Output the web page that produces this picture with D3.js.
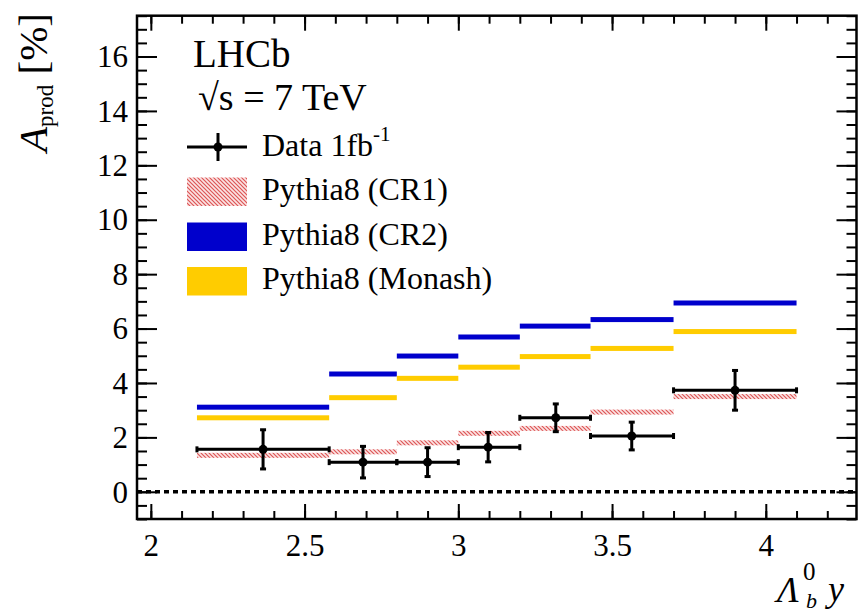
<!DOCTYPE html>
<html>
<head>
<meta charset="utf-8">
<script src="https://cdn.jsdelivr.net/npm/d3@7"></script>
<style>
  html, body { margin: 0; padding: 0; background: #fff; }
  svg { display: block; }
</style>
</head>
<body>
<svg id="chart" width="861" height="614"></svg>
<script>
// ---------------- data ----------------
const binEdges = [2.15, 2.58, 2.8, 3.0, 3.2, 3.43, 3.7, 4.1];
const dataX    = [2.365, 2.69, 2.90, 3.097, 3.317, 3.564, 3.90];
const dataY    = [1.56, 1.09, 1.09, 1.64, 2.72, 2.05, 3.73];
const dataErr  = [0.72, 0.58, 0.53, 0.54, 0.51, 0.51, 0.73];
const cr1      = [1.34, 1.47, 1.80, 2.15, 2.33, 2.93, 3.50];
const cr2      = [3.11, 4.33, 4.99, 5.69, 6.09, 6.33, 6.94];
const monash   = [2.72, 3.46, 4.17, 4.58, 4.97, 5.27, 5.89];
const xMajorTicks = [2, 2.5, 3, 3.5, 4];
const xMinorTicks = d3.range(20, 43).map(d => d / 10);
const yMajorTicks = [0, 2, 4, 6, 8, 10, 12, 14, 16];
const yMinorTicks = d3.range(-2, 36).map(d => d / 2);
const legendLabels = ["Data 1fb", "Pythia8 (CR1)", "Pythia8 (CR2)", "Pythia8 (Monash)"];

// ---------------- layout ----------------
const FONT = "'Liberation Serif', 'Times New Roman', 'DejaVu Serif', serif";
const L = 137, R = 856.5, T = 15.7, B = 519;
const svg = d3.select("#chart");
const x = d3.scaleLinear().domain([1.955, 4.295]).range([L, R]);
const y = d3.scaleLinear().domain([-1, 17.5]).range([B, T]);

const defs = svg.append("defs");
const pat = defs.append("pattern").attr("id", "hatch")
  .attr("patternUnits", "userSpaceOnUse").attr("width", 4).attr("height", 4);
pat.append("rect").attr("width", 4).attr("height", 4).attr("fill", "#fbe4e4");
pat.append("path").attr("d", "M-1,-1 L5,5 M3,-1 L5,1 M-1,3 L1,5")
  .attr("stroke", "#dd5555").attr("stroke-width", 1.2);

// ---------------- axes ----------------
function styleAxis(g) {
  g.select(".domain").remove();
  g.selectAll(".tick line").attr("stroke", "#000").attr("stroke-width", 2);
}
const fs = 31;
// left
svg.append("g").attr("transform", `translate(${L},0)`)
  .call(d3.axisLeft(y).tickValues(yMinorTicks).tickSize(-10).tickFormat("")).call(styleAxis);
const gl = svg.append("g").attr("transform", `translate(${L},0)`)
  .call(d3.axisLeft(y).tickValues(yMajorTicks).tickSize(-20).tickPadding(9).tickFormat(d3.format("d")))
  .call(styleAxis);
gl.selectAll(".tick text").attr("font-size", fs).attr("dy", "0.33em");
// right
svg.append("g").attr("transform", `translate(${R},0)`)
  .call(d3.axisRight(y).tickValues(yMinorTicks).tickSize(-10).tickFormat("")).call(styleAxis);
svg.append("g").attr("transform", `translate(${R},0)`)
  .call(d3.axisRight(y).tickValues(yMajorTicks).tickSize(-20).tickFormat("")).call(styleAxis);
// bottom
svg.append("g").attr("transform", `translate(0,${B})`)
  .call(d3.axisBottom(x).tickValues(xMinorTicks).tickSize(-8).tickFormat("")).call(styleAxis);
const gb = svg.append("g").attr("transform", `translate(0,${B})`)
  .call(d3.axisBottom(x).tickValues(xMajorTicks).tickSize(-15).tickPadding(15).tickFormat(d => String(d)))
  .call(styleAxis);
gb.selectAll(".tick text").attr("font-size", fs).attr("dy", "0.71em");
// top
svg.append("g").attr("transform", `translate(0,${T})`)
  .call(d3.axisTop(x).tickValues(xMinorTicks).tickSize(-8).tickFormat("")).call(styleAxis);
svg.append("g").attr("transform", `translate(0,${T})`)
  .call(d3.axisTop(x).tickValues(xMajorTicks).tickSize(-15).tickFormat("")).call(styleAxis);

// ---------------- model bands ----------------
const bins = d3.range(binEdges.length - 1).map(i => ({ x0: binEdges[i], x1: binEdges[i + 1], i }));
const bandH = 5;
function band(values, fill) {
  svg.append("g").selectAll("rect").data(bins).join("rect")
    .attr("x", d => x(d.x0)).attr("width", d => x(d.x1) - x(d.x0))
    .attr("y", d => y(values[d.i]) - bandH / 2).attr("height", bandH)
    .attr("fill", fill);
}
band(cr1, "url(#hatch)");
band(cr2, "#0000cc");
band(monash, "#ffcc00");

// zero line
svg.append("line").attr("x1", L).attr("x2", R).attr("y1", y(0)).attr("y2", y(0))
  .attr("stroke", "#000").attr("stroke-width", 3.5).attr("stroke-dasharray", "5,4");

// ---------------- data points ----------------
const pts = dataX.map((v, i) => ({ x: v, y: dataY[i], e: dataErr[i], x0: binEdges[i], x1: binEdges[i + 1] }));
const gp = svg.append("g").attr("stroke", "#000").attr("stroke-width", 3);
gp.selectAll(".h").data(pts).join("line")
  .attr("x1", d => x(d.x0)).attr("x2", d => x(d.x1)).attr("y1", d => y(d.y)).attr("y2", d => y(d.y));
gp.selectAll(".v").data(pts).join("line")
  .attr("x1", d => x(d.x)).attr("x2", d => x(d.x)).attr("y1", d => y(d.y - d.e)).attr("y2", d => y(d.y + d.e));
const capsH = [];
pts.forEach(d => { capsH.push({ cx: x(d.x0), cy: y(d.y) }); capsH.push({ cx: x(d.x1), cy: y(d.y) }); });
const capsV = [];
pts.forEach(d => { capsV.push({ cx: x(d.x), cy: y(d.y - d.e) }); capsV.push({ cx: x(d.x), cy: y(d.y + d.e) }); });
gp.selectAll(".ch").data(capsH).join("line")
  .attr("x1", d => d.cx).attr("x2", d => d.cx).attr("y1", d => d.cy - 3).attr("y2", d => d.cy + 3);
gp.selectAll(".cv").data(capsV).join("line")
  .attr("x1", d => d.cx - 3).attr("x2", d => d.cx + 3).attr("y1", d => d.cy).attr("y2", d => d.cy);
svg.append("g").selectAll("circle").data(pts).join("circle")
  .attr("cx", d => x(d.x)).attr("cy", d => y(d.y)).attr("r", 4.5).attr("fill", "#000");

// frame
svg.append("rect").attr("x", L).attr("y", T).attr("width", R - L).attr("height", B - T)
  .attr("fill", "none").attr("stroke", "#000").attr("stroke-width", 2.5);

// ---------------- labels ----------------
svg.append("text").attr("x", 193).attr("y", 66.5).attr("font-size", 39).text("LHCb");
svg.append("text").attr("x", 198).attr("y", 110).attr("font-size", 38).text("\u221As = 7 TeV");

// legend
const lx0 = 187, lx1 = 247, tx = 262;
const lg = svg.append("g");
lg.append("line").attr("x1", lx0).attr("x2", lx1).attr("y1", 147).attr("y2", 147).attr("stroke", "#000").attr("stroke-width", 3);
lg.append("line").attr("x1", 218).attr("x2", 218).attr("y1", 133).attr("y2", 161).attr("stroke", "#000").attr("stroke-width", 3);
lg.append("circle").attr("cx", 218).attr("cy", 147).attr("r", 4.5).attr("fill", "#000");
const boxes = [
  { y0: 177.5, fill: "url(#hatch)" },
  { y0: 222.5, fill: "#0000cc" },
  { y0: 267, fill: "#ffcc00" }
];
lg.selectAll("rect").data(boxes).join("rect")
  .attr("x", lx0).attr("y", d => d.y0).attr("width", lx1 - lx0).attr("height", 28.5).attr("fill", d => d.fill);
const baselines = [156, 200, 245, 289];
const lt = lg.selectAll("text.lab").data(legendLabels).join("text")
  .attr("class", "lab").attr("x", tx).attr("y", (d, i) => baselines[i]).attr("font-size", 32).text(d => d);
lt.filter((d, i) => i === 0).append("tspan").attr("font-size", 21).attr("dy", -15).text("-1");

// y title
const yt = svg.append("text").attr("transform", "translate(47,13) rotate(-90)")
  .attr("text-anchor", "end");
yt.append("tspan").attr("font-size", 41).attr("font-style", "italic").text("A");
yt.append("tspan").attr("font-size", 23).attr("dy", 6).text("prod");
yt.append("tspan").attr("font-size", 41).attr("dy", -6).text(" [%]");

// x title
svg.append("text").attr("x", 777).attr("y", 601.5).attr("font-size", 36).attr("font-style", "italic").text("\u039B");
svg.append("text").attr("x", 803).attr("y", 580).attr("font-size", 25).text("0");
svg.append("text").attr("x", 806).attr("y", 608).attr("font-size", 22).attr("font-style", "italic").text("b");
svg.append("text").attr("x", 828).attr("y", 601).attr("font-size", 36).attr("font-style", "italic").text("y");

// font for all text
svg.selectAll("text").style("font-family", FONT).style("fill", "#000");
</script>
</body>
</html>
